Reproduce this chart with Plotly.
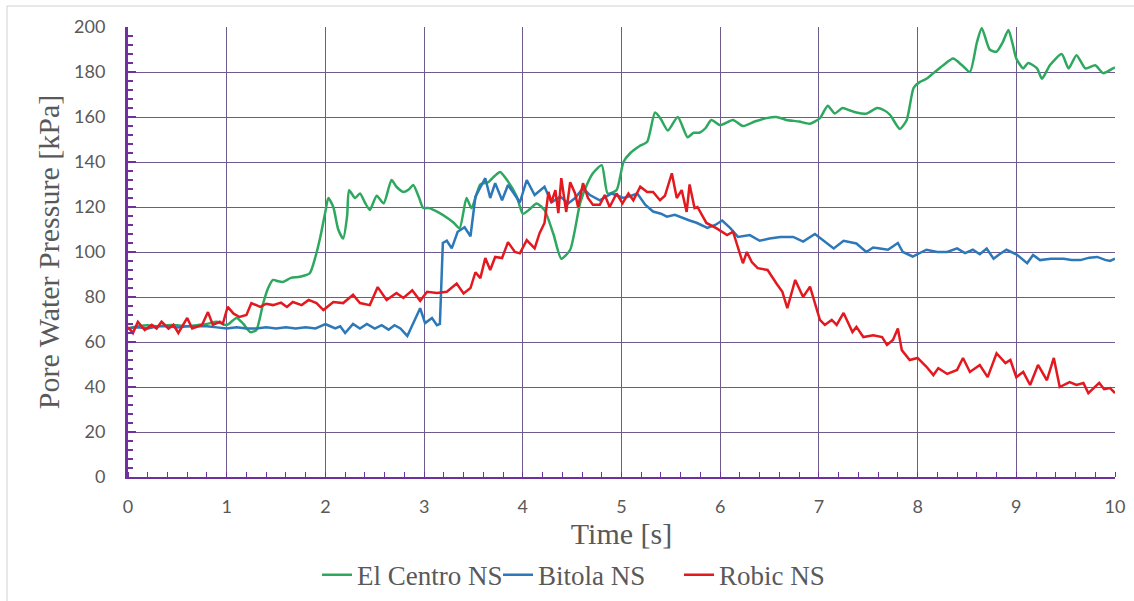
import plotly.graph_objects as go

# ---------------- data ----------------
t_elcentro = [0.00,0.10,0.20,0.30,0.40,0.50,0.60,0.70,0.80,0.90,1.00,1.10,1.17,1.24,1.30,1.37,1.42,1.47,1.52,1.57,
              1.65,1.74,1.84,1.90,1.95,2.00,2.03,2.08,2.13,2.18,2.22,2.24,2.30,2.35,2.40,2.45,2.52,2.59,2.67,2.72,
              2.79,2.85,2.89,2.95,2.99,3.05,3.15,3.24,3.30,3.36,3.43,3.48,3.57,3.65,3.72,3.77,3.84,3.94,4.00,4.07,
              4.14,4.22,4.31,4.39,4.48,4.58,4.65,4.71,4.80,4.86,4.95,5.02,5.09,5.18,5.26,5.34,5.40,5.47,5.57,5.67,
              5.73,5.79,5.85,5.91,6.00,6.13,6.23,6.35,6.47,6.57,6.67,6.80,6.91,7.01,7.09,7.16,7.24,7.31,7.38,7.48,
              7.59,7.66,7.72,7.82,7.89,7.96,8.02,8.09,8.16,8.26,8.36,8.45,8.53,8.60,8.65,8.73,8.80,8.86,8.92,8.96,
              9.00,9.07,9.12,9.21,9.26,9.34,9.46,9.53,9.61,9.70,9.80,9.88,9.98,10.00]
p_elcentro = [66,67,67.5,67,67.5,67.5,67,67.5,68,69,67.5,70.7,68,64.4,65.3,77.3,84,87.6,87,86.7,
              88.5,89,90.5,98,107,118,124,120,110,106,116,127.5,124,126,122,118.7,125,121.6,132,129,
              126.7,128,129.8,124,119.6,119.5,117.5,115,113,110.6,124,119.5,130,131,134,135.6,132,124.5,117,119,
              121.6,118.6,108,97,101,121.6,130,135,138.6,126,127.5,140,144,147,149,162,159,154,160,151,
              153,153,155,158.7,156.4,158.7,156,158,159.5,160,158.7,158,157,159.5,165,161.6,164,163,162,161.5,
              164,163,161,154.7,158.7,173,175.5,177,179.5,183,186,183,180,193,199.5,190,189,193,198.7,193,
              186,181.6,184,181.6,177,183,188,181.6,187.5,181.6,183,179.5,181.6,182]

t_bitola = [0.00,0.10,0.20,0.30,0.40,0.50,0.60,0.70,0.80,0.90,1.00,1.10,1.20,1.30,1.40,1.50,1.60,1.70,1.80,1.90,
            2.00,2.05,2.10,2.15,2.20,2.28,2.35,2.42,2.50,2.57,2.64,2.70,2.76,2.83,2.89,2.96,3.01,3.08,3.13,3.16,
            3.19,3.23,3.28,3.34,3.41,3.47,3.52,3.57,3.62,3.67,3.72,3.79,3.85,3.91,3.97,4.04,4.12,4.22,4.29,4.38,
            4.46,4.53,4.61,4.68,4.78,4.90,5.02,5.10,5.16,5.24,5.32,5.40,5.46,5.54,5.62,5.69,5.76,5.87,5.95,6.02,
            6.10,6.18,6.30,6.40,6.50,6.61,6.74,6.84,6.96,7.05,7.15,7.25,7.38,7.48,7.55,7.62,7.70,7.80,7.85,7.95,
            8.09,8.20,8.30,8.40,8.48,8.56,8.63,8.70,8.77,8.83,8.90,9.00,9.11,9.17,9.24,9.35,9.48,9.56,9.65,9.74,
            9.82,9.90,9.95,10.00]
p_bitola = [66,66.5,66,67,67,66.5,67,67,67,66.5,66,66.5,66,66,66.5,66,66.5,66,66.5,66,
            68,67,66,67,64,68,66,68,66,67.5,65.5,67.5,66,62.7,68.4,75,68.4,70.7,67.5,68,
            104,105,101.6,109,111,107,124.6,128.4,132.8,124,130.6,123,129.8,126,122,132,125.3,129,122,124.6,
            121.6,124,128.4,125.3,123,126,124,125,126,121,118,117,115.7,116.5,115,114,113,110.7,112,114,
            110.7,106.7,107.5,105,106,106.7,106.7,104.6,108,105,101.6,105,103.8,100,102,101.6,101,104,100,98,
            101,100,100,101.6,99.5,101,99,101.5,97,99,101,99,95,98.7,96.4,97,97,96.5,96.4,97.5,
            97.8,96.5,96,97]

t_robic = [0.00,0.05,0.10,0.17,0.24,0.29,0.34,0.41,0.46,0.51,0.60,0.65,0.75,0.81,0.86,0.93,0.96,1.01,1.07,1.13,
           1.20,1.25,1.34,1.40,1.47,1.55,1.61,1.67,1.76,1.83,1.91,1.98,2.08,2.18,2.28,2.35,2.45,2.53,2.62,2.72,
           2.79,2.88,2.96,3.03,3.13,3.23,3.33,3.40,3.47,3.52,3.57,3.62,3.67,3.72,3.79,3.85,3.92,3.97,4.04,4.12,
           4.17,4.22,4.26,4.29,4.33,4.36,4.39,4.44,4.48,4.53,4.56,4.61,4.66,4.71,4.78,4.83,4.88,4.95,5.01,5.07,
           5.12,5.19,5.26,5.32,5.39,5.44,5.51,5.56,5.61,5.66,5.69,5.74,5.77,5.86,5.96,6.07,6.13,6.17,6.23,6.27,
           6.32,6.38,6.48,6.57,6.63,6.68,6.76,6.84,6.91,7.01,7.06,7.13,7.18,7.25,7.34,7.38,7.45,7.55,7.64,7.69,
           7.75,7.80,7.84,7.92,8.00,8.09,8.16,8.21,8.30,8.40,8.46,8.53,8.63,8.71,8.80,8.89,8.94,9.00,9.07,9.14,
           9.22,9.31,9.38,9.44,9.54,9.61,9.68,9.73,9.84,9.89,9.95,10.00]
p_robic = [66.7,64,69,65.3,67.6,66,69,66,67.6,64,70.7,66,67.6,73.3,67.6,69,68,75.6,72.6,71.1,
           72,77.3,75.6,77,76.4,77.5,75.6,77.8,76.4,78.7,77.3,74.2,77.8,77.3,81,77.3,76.4,84.4,78.7,81.8,
           79.6,83,78.3,82.3,81.8,82.3,86,81.6,84,91,88.4,97.3,92,97.8,97.3,104.4,100,99.4,105.3,101.6,
           108.4,112.9,126.7,122,127.5,117.3,132.8,117.8,131,126,120,130.6,124,121,121,125.3,120,126,121.6,126,
           123,129,126.7,126.7,123,125,135,124,127.5,117.8,130,119.5,120,112.9,110.6,107.5,109,103,95,100,
           95.5,92.8,92,86,82.3,75,87.6,80,84.6,69.8,67.6,69.8,67.6,72.9,64.4,66.7,62.2,63,62.2,58.7,
           60.9,66,56.4,52,52.9,49,45.3,48.4,45.8,47.6,52.9,46.7,49.8,44.4,55,50.6,52,44.4,46.7,40.9,
           49.8,43,52.9,40,42.2,40.9,41.8,37.3,41.8,39,39.5,37.3]

series_names = ["El Centro NS", "Bitola NS", "Robic NS"]
x_tick_vals = list(range(0, 11))
y_tick_vals = list(range(0, 201, 20))

# ---------------- figure ----------------
PURPLE = "#7030A0"
GRID = "#6E5A8C"
GRAY = "#595959"
SERIF = "Liberation Serif"
SANS = "Lato"

fig = go.Figure()
fig.add_trace(go.Scatter(x=t_elcentro, y=p_elcentro, name=series_names[0], mode="lines",
                         line=dict(color="#2EA85F", width=2.5, shape="spline", smoothing=0.6)))
fig.add_trace(go.Scatter(x=t_bitola, y=p_bitola, name=series_names[1], mode="lines",
                         line=dict(color="#2C78B8", width=2.5)))
fig.add_trace(go.Scatter(x=t_robic, y=p_robic, name=series_names[2], mode="lines",
                         line=dict(color="#E3191F", width=2.5)))

fig.update_layout(
    width=1134, height=601,
    margin=dict(l=128, r=19, t=27, b=124, autoexpand=False),
    paper_bgcolor="white", plot_bgcolor="white",
    showlegend=True,
    legend=dict(orientation="h", x=0.1915, xanchor="left", y=-0.218, yanchor="middle",
                font=dict(family=SERIF, size=27, color=GRAY), itemwidth=30, entrywidth=136,
                tracegroupgap=0, bgcolor="rgba(0,0,0,0)"),
    xaxis=dict(range=[0, 10], tickvals=x_tick_vals, showgrid=True, gridcolor=GRID, gridwidth=1,
               zeroline=False, showline=True, linecolor=PURPLE, linewidth=2, automargin=False,
               ticks="", ticklabelstandoff=12, ticklabeloverflow="allow",
               tickfont=dict(family=SANS, size=18, color=GRAY),
               minor=dict(dtick=0.2, ticks="inside", ticklen=5, tickcolor=PURPLE, tickwidth=1, showgrid=False),
               title=dict(text="Time [s]", font=dict(family=SERIF, size=30, color=GRAY), standoff=6),
               fixedrange=True),
    yaxis=dict(range=[0, 200], tickvals=y_tick_vals, showgrid=True, gridcolor=GRID, gridwidth=1,
               zeroline=False, showline=True, linecolor=PURPLE, linewidth=3, automargin=False,
               ticks="inside", ticklen=8, tickcolor=PURPLE, tickwidth=2, ticklabelstandoff=16,
               ticklabeloverflow="allow",
               tickfont=dict(family=SANS, size=18, color=GRAY),
               minor=dict(dtick=4, ticks="inside", ticklen=5, tickcolor=PURPLE, tickwidth=2, showgrid=False),
               title=dict(text="Pore Water Pressure [kPa]", font=dict(family=SERIF, size=30, color=GRAY),
                          standoff=6),
               fixedrange=True),
)

# light outer chart border (top and left edges visible in the reference)
fig.add_shape(type="line", xref="paper", yref="paper", x0=-0.1226, x1=1.02, y0=1.0467, y1=1.0467,
              line=dict(color="#D0D0D0", width=1))
fig.add_shape(type="line", xref="paper", yref="paper", x0=-0.1226, x1=-0.1226, y0=1.0467, y1=-0.30,
              line=dict(color="#D0D0D0", width=1))

# remove the default 8px page margin so the 1134x601 figure fills the window exactly
fig.write_html("out.html", config={"displayModeBar": False},
               post_script="document.body.style.margin='0px';")
